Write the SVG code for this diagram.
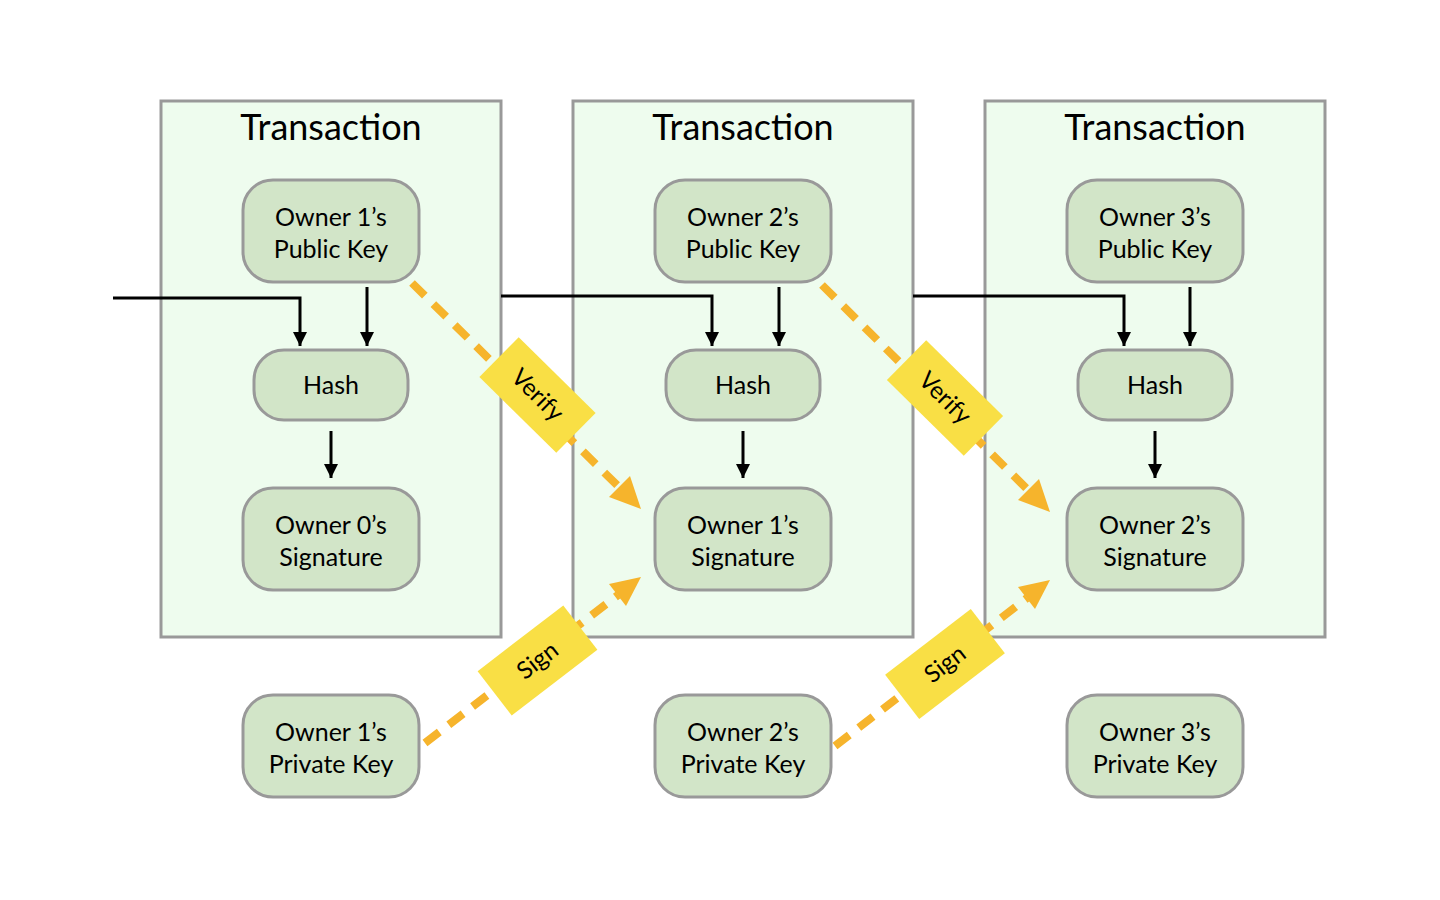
<svg xmlns="http://www.w3.org/2000/svg" width="1440" height="900" viewBox="0 0 1440 900">
<defs>
<style>
.tx{fill:#eefcee;stroke:#999;stroke-width:3}
.nd{fill:#d2e5c8;stroke:#999;stroke-width:3}
.t{font-family:Lato,"Open Sans","Liberation Sans",sans-serif;fill:#000;text-anchor:middle}
.title{font-size:36px}
.lbl{font-size:25px}
.tag{font-size:24px}
.blk{fill:none;stroke:#000;stroke-width:3}
.dash{fill:none;stroke:#f6b42c;stroke-width:8;stroke-dasharray:18 12}
.badge{fill:#f9df45}
</style>
<marker id="ah" viewBox="0 0 10 10" refX="10" refY="5" markerWidth="14" markerHeight="16" markerUnits="userSpaceOnUse" orient="auto"><path d="M0,0 L10,5 L0,10 z" fill="#000"/></marker>
</defs>
<rect width="1440" height="900" fill="#fff"/>
<g id="tx1"><rect class="tx" x="161" y="101" width="340" height="536"/><text class="t title" x="331" y="140">Transaction</text></g>
<g id="tx2"><rect class="tx" x="573" y="101" width="340" height="536"/><text class="t title" x="743" y="140">Transaction</text></g>
<g id="tx3"><rect class="tx" x="985" y="101" width="340" height="536"/><text class="t title" x="1155" y="140">Transaction</text></g>

<g id="pub1"><rect class="nd" x="243" y="180" width="176" height="102" rx="30"/><text class="t lbl" x="331" y="226">Owner 1’s</text><text class="t lbl" x="331" y="258">Public Key</text></g>
<g id="hash1"><rect class="nd" x="254" y="350" width="154" height="70" rx="30"/><text class="t lbl" x="331" y="394">Hash</text></g>
<g id="sig1"><rect class="nd" x="243" y="488" width="176" height="102" rx="30"/><text class="t lbl" x="331" y="534">Owner 0’s</text><text class="t lbl" x="331" y="566">Signature</text></g>
<g id="priv1"><rect class="nd" x="243" y="695" width="176" height="102" rx="30"/><text class="t lbl" x="331" y="741">Owner 1’s</text><text class="t lbl" x="331" y="773">Private Key</text></g>

<g id="pub2"><rect class="nd" x="655" y="180" width="176" height="102" rx="30"/><text class="t lbl" x="743" y="226">Owner 2’s</text><text class="t lbl" x="743" y="258">Public Key</text></g>
<g id="hash2"><rect class="nd" x="666" y="350" width="154" height="70" rx="30"/><text class="t lbl" x="743" y="394">Hash</text></g>
<g id="sig2"><rect class="nd" x="655" y="488" width="176" height="102" rx="30"/><text class="t lbl" x="743" y="534">Owner 1’s</text><text class="t lbl" x="743" y="566">Signature</text></g>
<g id="priv2"><rect class="nd" x="655" y="695" width="176" height="102" rx="30"/><text class="t lbl" x="743" y="741">Owner 2’s</text><text class="t lbl" x="743" y="773">Private Key</text></g>

<g id="pub3"><rect class="nd" x="1067" y="180" width="176" height="102" rx="30"/><text class="t lbl" x="1155" y="226">Owner 3’s</text><text class="t lbl" x="1155" y="258">Public Key</text></g>
<g id="hash3"><rect class="nd" x="1078" y="350" width="154" height="70" rx="30"/><text class="t lbl" x="1155" y="394">Hash</text></g>
<g id="sig3"><rect class="nd" x="1067" y="488" width="176" height="102" rx="30"/><text class="t lbl" x="1155" y="534">Owner 2’s</text><text class="t lbl" x="1155" y="566">Signature</text></g>
<g id="priv3"><rect class="nd" x="1067" y="695" width="176" height="102" rx="30"/><text class="t lbl" x="1155" y="741">Owner 3’s</text><text class="t lbl" x="1155" y="773">Private Key</text></g>

<g id="connectors">
<path class="blk" d="M113,298 H300 V346" marker-end="url(#ah)"/>
<path class="blk" d="M367,287 V346" marker-end="url(#ah)"/>
<path class="blk" d="M331,431 V478" marker-end="url(#ah)"/>
<path class="blk" d="M501,296 H712 V346" marker-end="url(#ah)"/>
<path class="blk" d="M779,287 V346" marker-end="url(#ah)"/>
<path class="blk" d="M743,431 V478" marker-end="url(#ah)"/>
<path class="blk" d="M913,296 H1124 V346" marker-end="url(#ah)"/>
<path class="blk" d="M1190,287 V346" marker-end="url(#ah)"/>
<path class="blk" d="M1155,431 V478" marker-end="url(#ah)"/>

<path class="dash" d="M412,283 L620,488"/>
<polygon points="641,509 609,497 630,476" fill="#f6b42c"/>
<path class="dash" d="M822,285 L1030,492"/>
<polygon points="1050,512 1018,500 1039,479" fill="#f6b42c"/>
<path class="dash" d="M425,743 L618,595"/>
<polygon points="641,577 626,606 609,584" fill="#f6b42c"/>
<path class="dash" d="M835,746 L1027,598"/>
<polygon points="1050,580 1035,609 1018,587" fill="#f6b42c"/>

<g transform="translate(537.5,395) rotate(44.6)"><rect class="badge" x="-54" y="-28" width="108" height="56"/><text class="t tag" x="0" y="8">Verify</text></g>
<g transform="translate(945,398) rotate(44.6)"><rect class="badge" x="-54" y="-28" width="108" height="56"/><text class="t tag" x="0" y="8">Verify</text></g>
<g transform="translate(537.5,660.5) rotate(-37.5)"><rect class="badge" x="-54" y="-28" width="108" height="56"/><text class="t tag" x="0" y="8">Sign</text></g>
<g transform="translate(945,664) rotate(-37.5)"><rect class="badge" x="-54" y="-28" width="108" height="56"/><text class="t tag" x="0" y="8">Sign</text></g>
</g>
</svg>
